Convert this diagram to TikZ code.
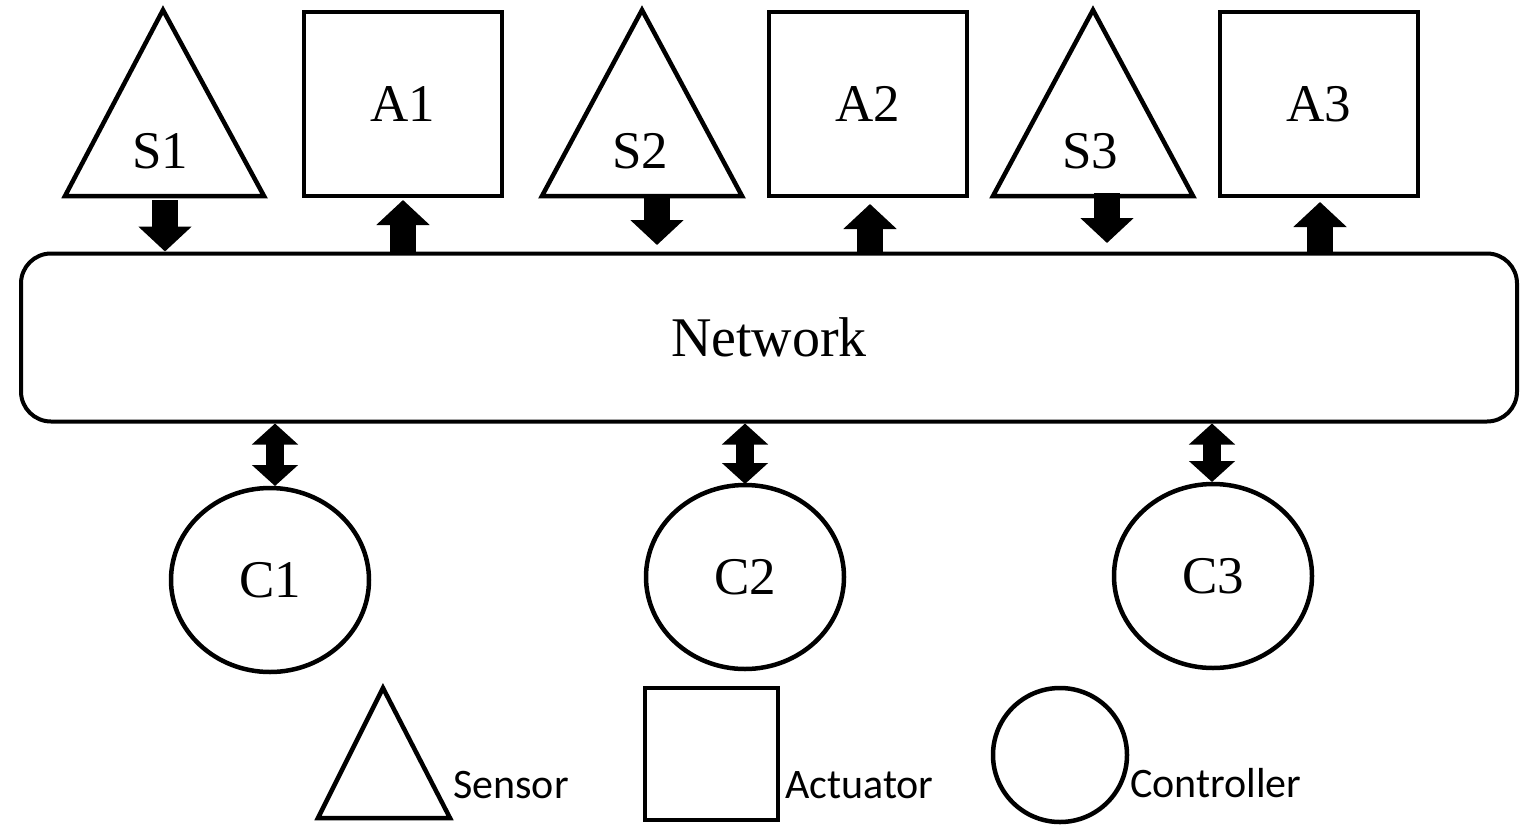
\documentclass[tikz,border=0pt]{standalone}
\usepackage{fontspec}
\setmainfont{Liberation Serif}
\newfontfamily\legendfont{Carlito}
\usetikzlibrary{arrows.meta,shapes.geometric}

\begin{document}
\begin{tikzpicture}[x=1pt,y=-1pt,
  outline/.style={draw=black, line width=4.5pt, line join=miter},
  lbl/.style={font=\fontsize{53}{53}\selectfont, inner sep=0pt},
  actbox/.style={outline, rectangle, minimum width=198pt, minimum height=184pt, inner sep=0pt, font=\fontsize{53}{53}\selectfont},
  ctrl/.style={outline, ellipse, minimum width=198pt, minimum height=184pt, inner sep=0pt, font=\fontsize{53}{53}\selectfont},
  oneway/.style={line width=26pt, -{Triangle[width=52pt,length=25pt]}},
  twoway/.style={line width=18pt, {Triangle[width=45pt,length=21pt]}-{Triangle[width=45pt,length=21pt]}},
  legtext/.style={font=\legendfont\fontsize{42}{42}\selectfont, anchor=base west, inner sep=0pt}
]
\useasboundingbox (0,0) rectangle (1523,825);

% network bus
\node[draw=black, line width=4pt, rectangle, rounded corners=30pt,
      minimum width=1496pt, minimum height=168pt, inner sep=0pt,
      font=\fontsize{56}{56}\selectfont] (net) at (769,337.5) {Network};

% sensors
\draw[outline] (163,10) coordinate (s1top) -- (264,196) -- (65,196) -- cycle;
\node[lbl] (s1) at (160,151) {S1};
\draw[outline] (642,10) coordinate (s2top) -- (742,196) -- (542,196) -- cycle;
\node[lbl] (s2) at (640,151) {S2};
\draw[outline] (1093,10) coordinate (s3top) -- (1193,196) -- (993,196) -- cycle;
\node[lbl] (s3) at (1090,151) {S3};

% actuators
\node[actbox] (a1) at (403,104) {A1};
\node[actbox] (a2) at (868,104) {A2};
\node[actbox] (a3) at (1319,104) {A3};

% controllers
\node[ctrl] (c1) at (270,580) {C1};
\node[ctrl] (c2) at (745,577) {C2};
\node[ctrl] (c3) at (1213,576) {C3};

% sensor -> network
\coordinate (s1o) at (165,200);
\draw[oneway] (s1o) -- (s1o |- net.north);
\coordinate (s2o) at (657,197);
\coordinate (s2i) at (657,245);
\draw[oneway] (s2o) -- (s2i);
\coordinate (s3o) at (1107,193);
\coordinate (s3i) at (1107,243);
\draw[oneway] (s3o) -- (s3i);

% network -> actuator
\coordinate (a1i) at (403,200);
\draw[oneway] (a1i |- net.north) -- (a1i);
\coordinate (a2i) at (870,204);
\draw[oneway] (a2i |- net.north) -- (a2i);
\coordinate (a3i) at (1320,202);
\draw[oneway] (a3i |- net.north) -- (a3i);

% network <-> controller
\coordinate (c1i) at (275,486);
\draw[twoway] (c1i |- net.south) -- (c1i);
\coordinate (c2i) at (745,484);
\draw[twoway] (c2i |- net.south) -- (c2i);
\coordinate (c3i) at (1212,482);
\draw[twoway] (c3i |- net.south) -- (c3i);

% legend
\draw[outline] (383,688) coordinate (lsen) -- (450,818) -- (318,818) -- cycle;
\node[legtext] (tsen) at (453,798) {Sensor};
\node[outline, rectangle, minimum width=133pt, minimum height=132pt, inner sep=0pt] (lact) at (711.5,754) {};
\node[legtext] (tact) at (785,798) {Actuator};
\node[outline, circle, minimum size=134pt, inner sep=0pt] (lctl) at (1060,755) {};
\node[legtext] (tctl) at (1130,797) {Controller};
\end{tikzpicture}
\end{document}
